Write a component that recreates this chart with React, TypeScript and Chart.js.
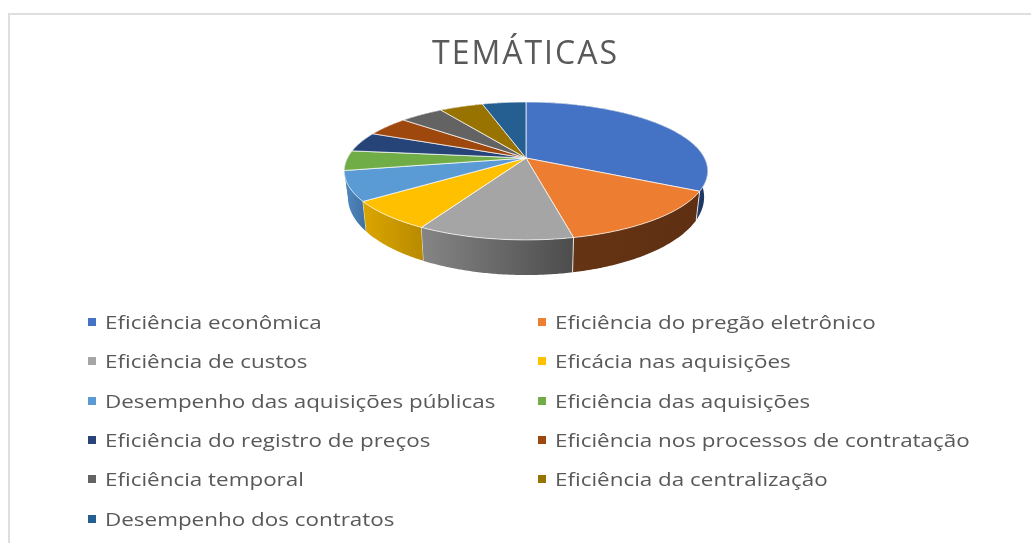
import React, { useEffect, useRef } from "react";
import { Chart, registerables } from "chart.js";

Chart.register(...registerables);

const categories = [
  "Eficiência econômica",
  "Eficiência do pregão eletrônico",
  "Eficiência de custos",
  "Eficácia nas aquisições",
  "Desempenho das aquisições públicas",
  "Eficiência das aquisições",
  "Eficiência do registro de preços",
  "Eficiência nos processos de contratação",
  "Eficiência temporal",
  "Eficiência da centralização",
  "Desempenho dos contratos",
];
const values = [14, 6, 5, 3, 3, 2, 2, 2, 2, 2, 2];
const faceColors = ["#4472C4", "#ED7D31", "#A5A5A5", "#FFC000", "#5B9BD5", "#70AD47", "#264478", "#9E480E", "#636363", "#997300", "#255E91"];
const wallStart = ["#1F3864", "#653414", "#858585", "#DCA600", "#4F8AC4", "#507C33", "#1B3055", "#70330A", "#474747", "#6D5200", "#1A4367"];
const wallEnd = ["#1F3864", "#5E2F12", "#4C4C4C", "#B98B00", "#4373A4", "#507C33", "#1B3055", "#70330A", "#474747", "#6D5200", "#1A4367"];

const apexX = 526;
const apexY = 158;
const radiusX = 178.5;
const radiusY = 66.5;
const perspective = 0.188;
const wallOffset = 24.5;
const wallScaleX = 0.98;
const wallScaleY = 1.13;

function project(angle: number) {
  const u = Math.cos(angle);
  const v = Math.sin(angle);
  const w = 1 - perspective * v;
  return { x: (radiusX * u) / w, y: (radiusY * v) / w };
}

const pie3d = {
  id: "pie3d",
  beforeDraw(chart: any) {
    chart.ctx.letterSpacing = "2px";
  },
  beforeDatasetDraw(chart: any, args: any) {
    const ctx = chart.ctx as CanvasRenderingContext2D;
    (ctx as any).letterSpacing = "0px";
    const arcs = args.meta.data;
    const rim = (a: number) => {
      const p = project(a);
      return { x: apexX + p.x, y: apexY + p.y };
    };
    const low = (a: number) => {
      const p = project(a);
      return { x: apexX + p.x * wallScaleX, y: apexY + p.y * wallScaleY + wallOffset };
    };
    const samples = (s: number, e: number) => {
      const n = Math.max(2, Math.ceil((e - s) / 0.01));
      const out: number[] = [];
      for (let i = 0; i <= n; i++) out.push(s + ((e - s) * i) / n);
      return out;
    };
    ctx.save();
    ctx.lineJoin = "round";
    const order = arcs
      .map((arc: any, i: number) => ({ arc, i, depth: Math.sin((arc.startAngle + arc.endAngle) / 2) }))
      .sort((a: any, b: any) => a.depth - b.depth);
    order.forEach(({ arc, i }: any) => {
      const pts = samples(arc.startAngle, arc.endAngle);
      const top = pts.map(rim);
      const bottom = pts.map(low).reverse();
      const xs = top.map((p) => p.x);
      const g = ctx.createLinearGradient(Math.min(...xs), 0, Math.max(...xs), 0);
      g.addColorStop(0, wallStart[i]);
      g.addColorStop(1, wallEnd[i]);
      ctx.beginPath();
      [...top, ...bottom].forEach((p, k) => (k ? ctx.lineTo(p.x, p.y) : ctx.moveTo(p.x, p.y)));
      ctx.closePath();
      ctx.fillStyle = g;
      ctx.fill();
      const a = top[0];
      const b = low(arc.startAngle);
      if (Math.sin(arc.startAngle) > 0.2) {
        ctx.beginPath();
        ctx.moveTo(a.x, a.y);
        ctx.lineTo(b.x, b.y);
        ctx.strokeStyle = "rgba(255,255,255,0.8)";
        ctx.lineWidth = 1;
        ctx.stroke();
      }
    });
    arcs.forEach((arc: any, i: number) => {
      const top = samples(arc.startAngle, arc.endAngle).map(rim);
      ctx.beginPath();
      ctx.moveTo(apexX, apexY);
      top.forEach((p) => ctx.lineTo(p.x, p.y));
      ctx.closePath();
      ctx.fillStyle = faceColors[i];
      ctx.fill();
      ctx.strokeStyle = "rgba(255,255,255,0.7)";
      ctx.lineWidth = 1;
      ctx.stroke();
    });
    ctx.restore();
    return false;
  },
};

const legendFont = "'Open Sans', sans-serif";
const legendRowTop = 322;
const legendRowStep = 39.3;
const legendCols = [88, 538];

export default function App() {
  const ref = useRef<HTMLCanvasElement>(null);
  useEffect(() => {
    document.body.style.margin = "0";
    document.body.style.overflow = "hidden";
    const chart = new Chart(ref.current as HTMLCanvasElement, {
      type: "pie",
      data: {
        labels: categories,
        datasets: [{ data: values, backgroundColor: faceColors, borderWidth: 0 }],
      },
      options: {
        animation: false,
        responsive: false,
        events: [],
        layout: { padding: { top: 36, left: 20 } },
        plugins: {
          legend: { display: false },
          tooltip: { enabled: false },
          title: {
            display: true,
            text: "TEMÁTICAS",
            color: "#595959",
            font: { family: "'Open Sans', sans-serif", size: 32, weight: "normal" },
            padding: { top: 0, bottom: 0 },
          },
        },
      },
      plugins: [pie3d],
    } as any);
    return () => chart.destroy();
  }, []);

  return (
    <div style={{ position: "absolute", left: 0, top: 0, width: 1031, height: 543, overflow: "hidden", background: "#fff" }}>
      <canvas ref={ref} width={1031} height={543} style={{ position: "absolute", left: 0, top: 0, width: 1031, height: 543 }} />
      <div style={{ position: "absolute", left: 8, top: 13, width: 1100, height: 600, border: "2px solid #DEDEDE", boxSizing: "border-box" }} />
      {categories.map((label, i) => {
        const row = Math.floor(i / 2);
        const x = legendCols[i % 2];
        const y = legendRowTop + row * legendRowStep;
        return (
          <div key={label} style={{ position: "absolute", left: x, top: y - 15, height: 30, lineHeight: "30px", whiteSpace: "nowrap", font: `19px ${legendFont}`, color: "#595959" }}>
            <span style={{ position: "absolute", left: 0, top: 11, width: 8, height: 8, background: faceColors[i] }} />
            <span style={{ position: "absolute", left: 17, top: 0, lineHeight: "30px", transform: "scaleX(1.18)", transformOrigin: "left center" }}>{label}</span>
          </div>
        );
      })}
    </div>
  );
}
